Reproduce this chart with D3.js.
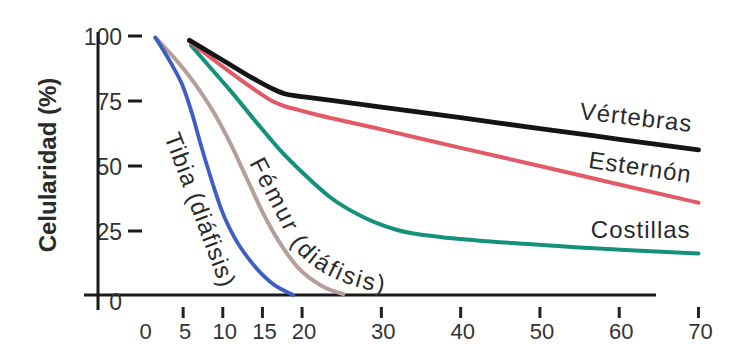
<!DOCTYPE html>
<html>
<head>
<meta charset="utf-8">
<script src="https://cdn.jsdelivr.net/npm/d3@7"></script>
<style>
  html, body { margin: 0; padding: 0; background: #fff; }
  svg { display: block; }
</style>
</head>
<body>
<svg id="chart" width="746" height="344"></svg>
<script>
// tick values
const xTicks = [0, 5, 10, 15, 20, 30, 40, 50, 60, 70];
const yTicks = [0, 25, 50, 75, 100];

// series: [age, cellularity %]
const vertebras = [[5.8, 98], [10, 90.3], [14, 83], [16.3, 79.3], [17.8, 77.4], [19.5, 76.5], [21, 75.9], [30, 72.3], [40, 68.2], [50, 64], [60, 59.9], [70, 55.8]];
const esternon = [[5.8, 97.5], [10, 87.8], [14, 79], [16.3, 74.5], [17.8, 72.6], [19.5, 71.2], [21, 70], [30, 63.7], [40, 56.6], [50, 49.6], [60, 42.5], [70, 35.5]];
const costillas = [[6, 96], [8.5, 87.2], [10.9, 78.8], [14.3, 66.2], [17.2, 55.8], [20.1, 46.9], [23.5, 37.7], [27.7, 30], [32, 25], [37.4, 22.3], [42, 21], [48, 19.7], [55, 18.3], [62, 17.1], [70, 16]];
const tibia = [[1.5, 99], [3.5, 89], [5, 80], [6.2, 69], [7.3, 57], [8.5, 45], [10, 31.5], [11.5, 22], [13.5, 13], [16, 5], [18.9, 0]];
const femur = [[1.5, 99], [4.5, 89], [7, 79], [9, 69.5], [11, 58], [13, 45], [15, 32], [17, 21], [19.5, 10.5], [22.5, 3.5], [25.2, 0.4]];

// curved baseline for the Fémur label (data units)
const femurLabelPath = [[13.3, 50.8], [15.3, 39.2], [17.2, 28.1], [18.8, 18.8], [21, 11.9], [24.2, 6.2], [27.6, 2.6], [31.5, 0.5]];

const series = [
  { name: "Fémur", data: femur, color: "#b59e9c", width: 4 },
  { name: "Tibia", data: tibia, color: "#3d5ec2", width: 3.8 },
  { name: "Costillas", data: costillas, color: "#13917a", width: 4 },
  { name: "Esternón", data: esternon, color: "#e25a66", width: 4 },
  { name: "Vértebras", data: vertebras, color: "#141414", width: 4.8 }
];

// right-hand labels: [x, y, angle]
const rightLabels = [
  { text: "Vértebras", pos: [69.1, 62.7], angle: 6.6 },
  { text: "Esternón", pos: [69, 43.1], angle: 8.4 },
  { text: "Costillas", pos: [69, 21.9], angle: 0 }
];
const tibiaLabel = { text: "Tibia (diáfisis)", pos: [2.6, 61], angle: 69.5 };

const svg = d3.select("#chart");
const font = "'Liberation Sans', Arial, sans-serif";
const ink = "#2a2a2a";

const x = d3.scaleLinear().domain([0, 70]).range([143.5, 698.5]);
const y = d3.scaleLinear().domain([0, 100]).range([295, 35]);

// x axis line
svg.append("line")
  .attr("x1", 84).attr("x2", 656)
  .attr("y1", y(0)).attr("y2", y(0))
  .attr("stroke", "#1a1a1a").attr("stroke-width", 3);

// y tick labels + dashes
const yg = svg.append("g").attr("font-family", font).attr("fill", "#333");
yg.selectAll("text")
  .data(yTicks)
  .join("text")
  .attr("x", 122)
  .attr("y", d => y(d) + (d === 0 ? 7 : 2))
  .attr("text-anchor", "end")
  .attr("dominant-baseline", "central")
  .attr("font-size", 23)
  .text(d => d);
yg.selectAll("line")
  .data(yTicks.filter(d => d > 0))
  .join("line")
  .attr("x1", 128).attr("x2", 142)
  .attr("y1", d => y(d) + 1).attr("y2", d => y(d) + 1)
  .attr("stroke", "#1a1a1a").attr("stroke-width", 3);

svg.append("line")
  .attr("x1", 98).attr("x2", 98)
  .attr("y1", 32).attr("y2", 310)
  .attr("stroke", "#1a1a1a").attr("stroke-width", 3);

// x ticks
const xg = svg.append("g").attr("font-family", font).attr("fill", "#333");
xg.selectAll("line")
  .data(xTicks.filter(d => d > 0))
  .join("line")
  .attr("x1", d => x(d)).attr("x2", d => x(d))
  .attr("y1", 307).attr("y2", 318)
  .attr("stroke", "#222").attr("stroke-width", 3);
xg.selectAll("text")
  .data(xTicks)
  .join("text")
  .attr("x", d => x(d) + 2)
  .attr("y", 339)
  .attr("text-anchor", "middle")
  .attr("font-size", 22)
  .text(d => d);

// y axis title
svg.append("text")
  .attr("transform", "translate(47,165) rotate(-90)")
  .attr("text-anchor", "middle")
  .attr("dominant-baseline", "central")
  .attr("font-family", font)
  .attr("font-weight", "bold")
  .attr("font-size", 24)
  .attr("fill", ink)
  .text("Celularidad (%)");

// curves
const line = d3.line()
  .x(d => x(d[0]))
  .y(d => y(d[1]))
  .curve(d3.curveMonotoneX);

svg.append("g")
  .attr("fill", "none")
  .attr("stroke-linecap", "round")
  .attr("stroke-linejoin", "round")
  .selectAll("path")
  .data(series)
  .join("path")
  .attr("stroke", d => d.color)
  .attr("stroke-width", d => d.width)
  .attr("d", d => line(d.data));

// labels
const lg = svg.append("g")
  .attr("font-family", font)
  .attr("font-size", 24)
  .attr("letter-spacing", 1)
  .attr("fill", ink);

lg.selectAll("text.right")
  .data(rightLabels)
  .join("text")
  .attr("class", "right")
  .attr("text-anchor", "end")
  .attr("transform", d => `translate(${x(d.pos[0])},${y(d.pos[1])}) rotate(${d.angle})`)
  .text(d => d.text);

lg.append("text")
  .attr("transform", `translate(${x(tibiaLabel.pos[0])},${y(tibiaLabel.pos[1])}) rotate(${tibiaLabel.angle})`)
  .text(tibiaLabel.text);

const labelLine = d3.line()
  .x(d => x(d[0]))
  .y(d => y(d[1]))
  .curve(d3.curveCatmullRom);

svg.append("defs").append("path")
  .attr("id", "femurPath")
  .attr("d", labelLine(femurLabelPath));

lg.append("text")
  .attr("letter-spacing", 2.2)
  .append("textPath")
  .attr("href", "#femurPath")
  .text("Fémur (diáfisis)");
</script>
</body>
</html>
